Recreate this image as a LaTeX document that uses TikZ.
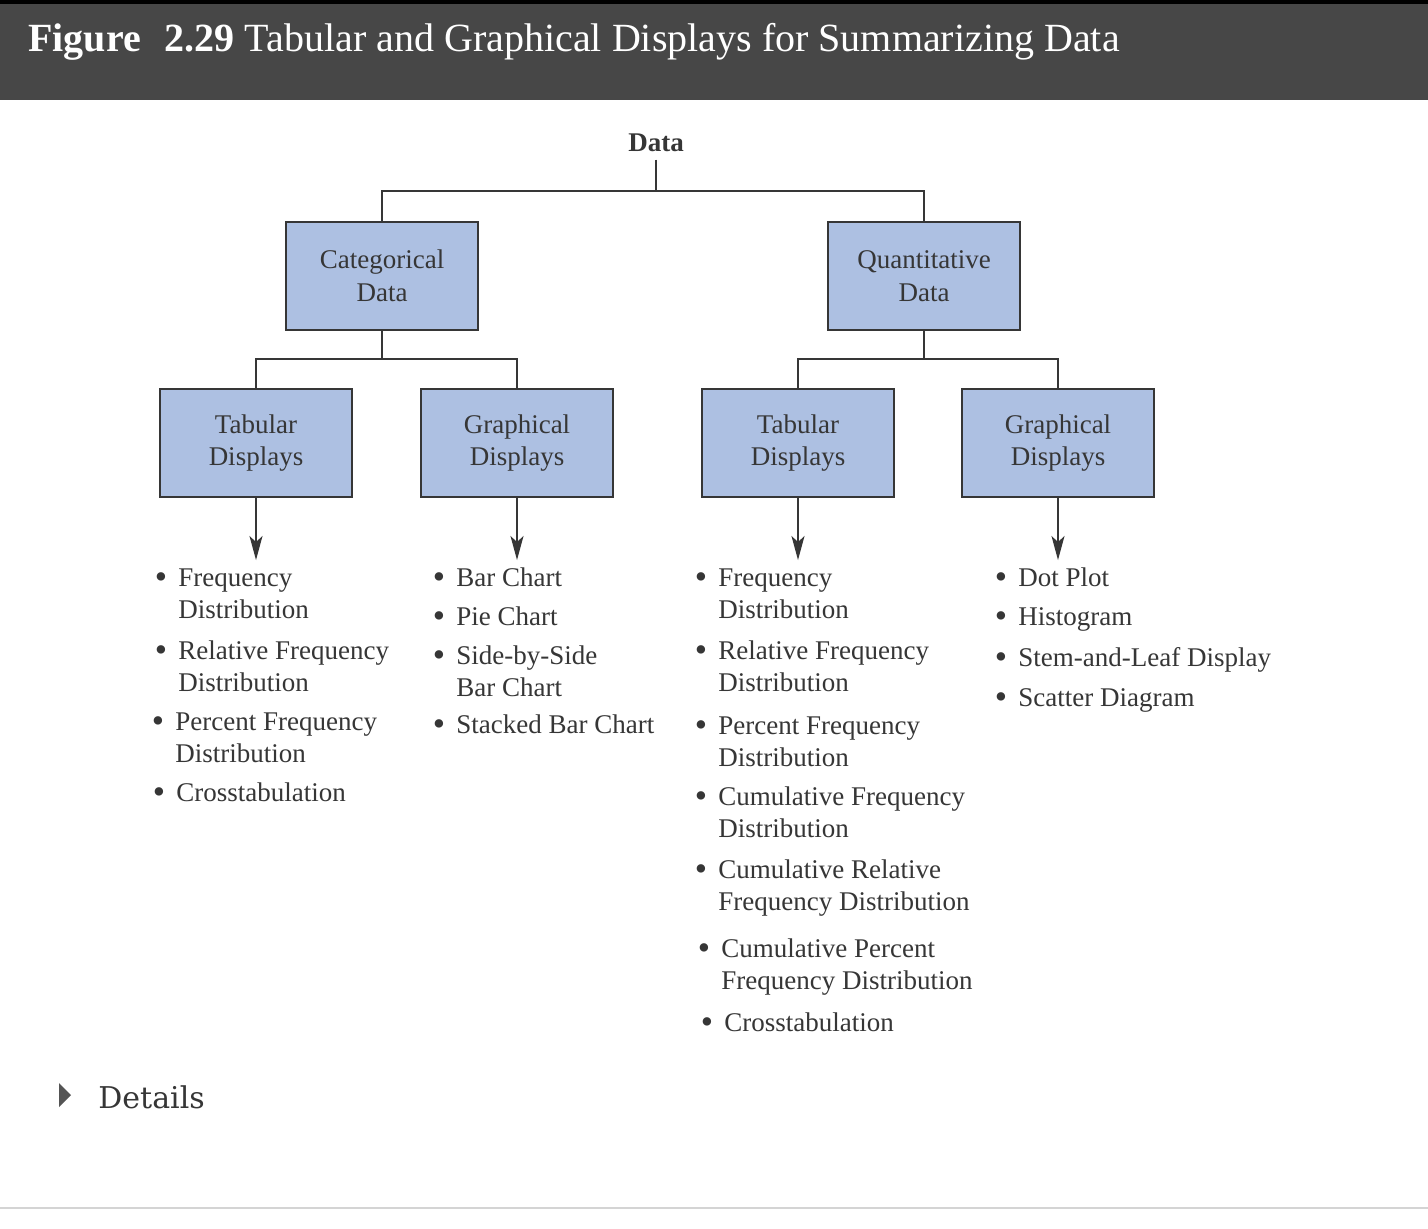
\documentclass[tikz,border=0pt]{standalone}
\usepackage{fontspec}
\setmainfont{Liberation Serif}
\newfontfamily\detailsfont{DejaVu Serif}
\usetikzlibrary{arrows.meta}
\usepackage{xcolor}
\usepackage{graphicx}

\definecolor{boxblue}{HTML}{ADC0E2}
\definecolor{ink}{HTML}{363636}
\definecolor{headgray}{HTML}{474747}
\definecolor{rulegray}{HTML}{D4D4D4}

\newcommand\bodyfont{\fontsize{13.5}{16.3}\selectfont}
\newcommand\bitem[2]{\llap{\raisebox{-1.3pt}{\scalebox{1.3}{\textbullet}}\hspace{5.6pt}}\begin{tabular}[t]{@{}l@{}}#1\\#2\end{tabular}}

\tikzset{
	box/.style={draw=ink, line width=1pt, fill=boxblue, minimum width=96pt,
		minimum height=54pt, align=center, font=\bodyfont, text=ink},
	link/.style={draw=ink, line width=0.75pt},
	arr/.style={link, -{Stealth[length=12pt,width=6.5pt,inset=3pt]}},
	entry/.style={anchor=base west, inner sep=0pt, font=\bodyfont, text=ink}
}

\begin{document}
\begin{tikzpicture}[x=0.5pt,y=-0.5pt]
	\useasboundingbox (0,0) rectangle (1428,1228);
	\fill[white] (0,0) rectangle (1428,1228);
	% header bar
	\fill[headgray] (0,0) rectangle (1428,100);
	\fill[black] (0,0) rectangle (1428,4);
	\node[anchor=base west, inner sep=0pt, text=white,
		font=\fontsize{20}{24}\selectfont] (title) at (28,51)
		{\textbf{Figure\hspace{12pt}2.29} Tabular and Graphical Displays for Summarizing Data};

	% tree
	\node[font=\bodyfont\bfseries, text=ink, anchor=base, inner sep=4pt] (data) at (656,151) {Data};
	\node[box] (cat) at (382,276) {Categorical\\Data};
	\node[box] (quant) at (924,276) {Quantitative\\Data};
	\node[box] (ctab) at (256,443) {Tabular\\Displays};
	\node[box] (cgra) at (517,443) {Graphical\\Displays};
	\node[box] (qtab) at (798,443) {Tabular\\Displays};
	\node[box] (qgra) at (1058,443) {Graphical\\Displays};

	\coordinate (dsplit) at (656,191);
	\coordinate (csplit) at (382,359);
	\coordinate (qsplit) at (924,359);
	\coordinate (tips) at (0,560);

	\draw[link] (data.south) -- (dsplit);
	\draw[link] (cat.north) |- (dsplit) -| (quant.north);
	\draw[link] (cat.south) -- (csplit);
	\draw[link] (ctab.north) |- (csplit) -| (cgra.north);
	\draw[link] (quant.south) -- (qsplit);
	\draw[link] (qtab.north) |- (qsplit) -| (qgra.north);
	\foreach \b in {ctab,cgra,qtab,qgra}
		\draw[arr] (\b.south) -- (\b.south |- tips);

	% bullet lists
	\foreach \x/\y/\a/\b [count=\i] in {
			178/586/Frequency/Distribution,
			178/659/Relative Frequency/Distribution,
			175/730/Percent Frequency/Distribution,
			176/801/Crosstabulation/{}
			}
		\node[entry] (ctab\i) at (\x,\y) {\bitem{\a}{\b}};
	\foreach \x/\y/\a/\b [count=\i] in {
			456/586/Bar Chart/{},
			456/625/Pie Chart/{},
			456/664/Side-by-Side/Bar Chart,
			456/733/Stacked Bar Chart/{}
			}
		\node[entry] (cgra\i) at (\x,\y) {\bitem{\a}{\b}};
	\foreach \x/\y/\a/\b [count=\i] in {
			718/586/Frequency/Distribution,
			718/659/Relative Frequency/Distribution,
			718/734/Percent Frequency/Distribution,
			718/805/Cumulative Frequency/Distribution,
			718/878/Cumulative Relative/Frequency Distribution,
			721/957/Cumulative Percent/Frequency Distribution,
			724/1031/Crosstabulation/{}
			}
		\node[entry] (qtab\i) at (\x,\y) {\bitem{\a}{\b}};
	\foreach \x/\y/\a/\b [count=\i] in {
			1018/586/Dot Plot/{},
			1018/625/Histogram/{},
			1018/666/Stem-and-Leaf Display/{},
			1018/706/Scatter Diagram/{}
			}
		\node[entry] (qgra\i) at (\x,\y) {\bitem{\a}{\b}};

	% footer
	\fill[ink!85] (59,1083) -- (71,1095) -- (59,1107) -- cycle;
	\node[anchor=base west, inner sep=0pt, font=\detailsfont\fontsize{15}{18}\selectfont,
		text=ink] (details) at (98,1108) {Details};
	\fill[rulegray] (0,1207) rectangle (1428,1209);
\end{tikzpicture}
\end{document}
